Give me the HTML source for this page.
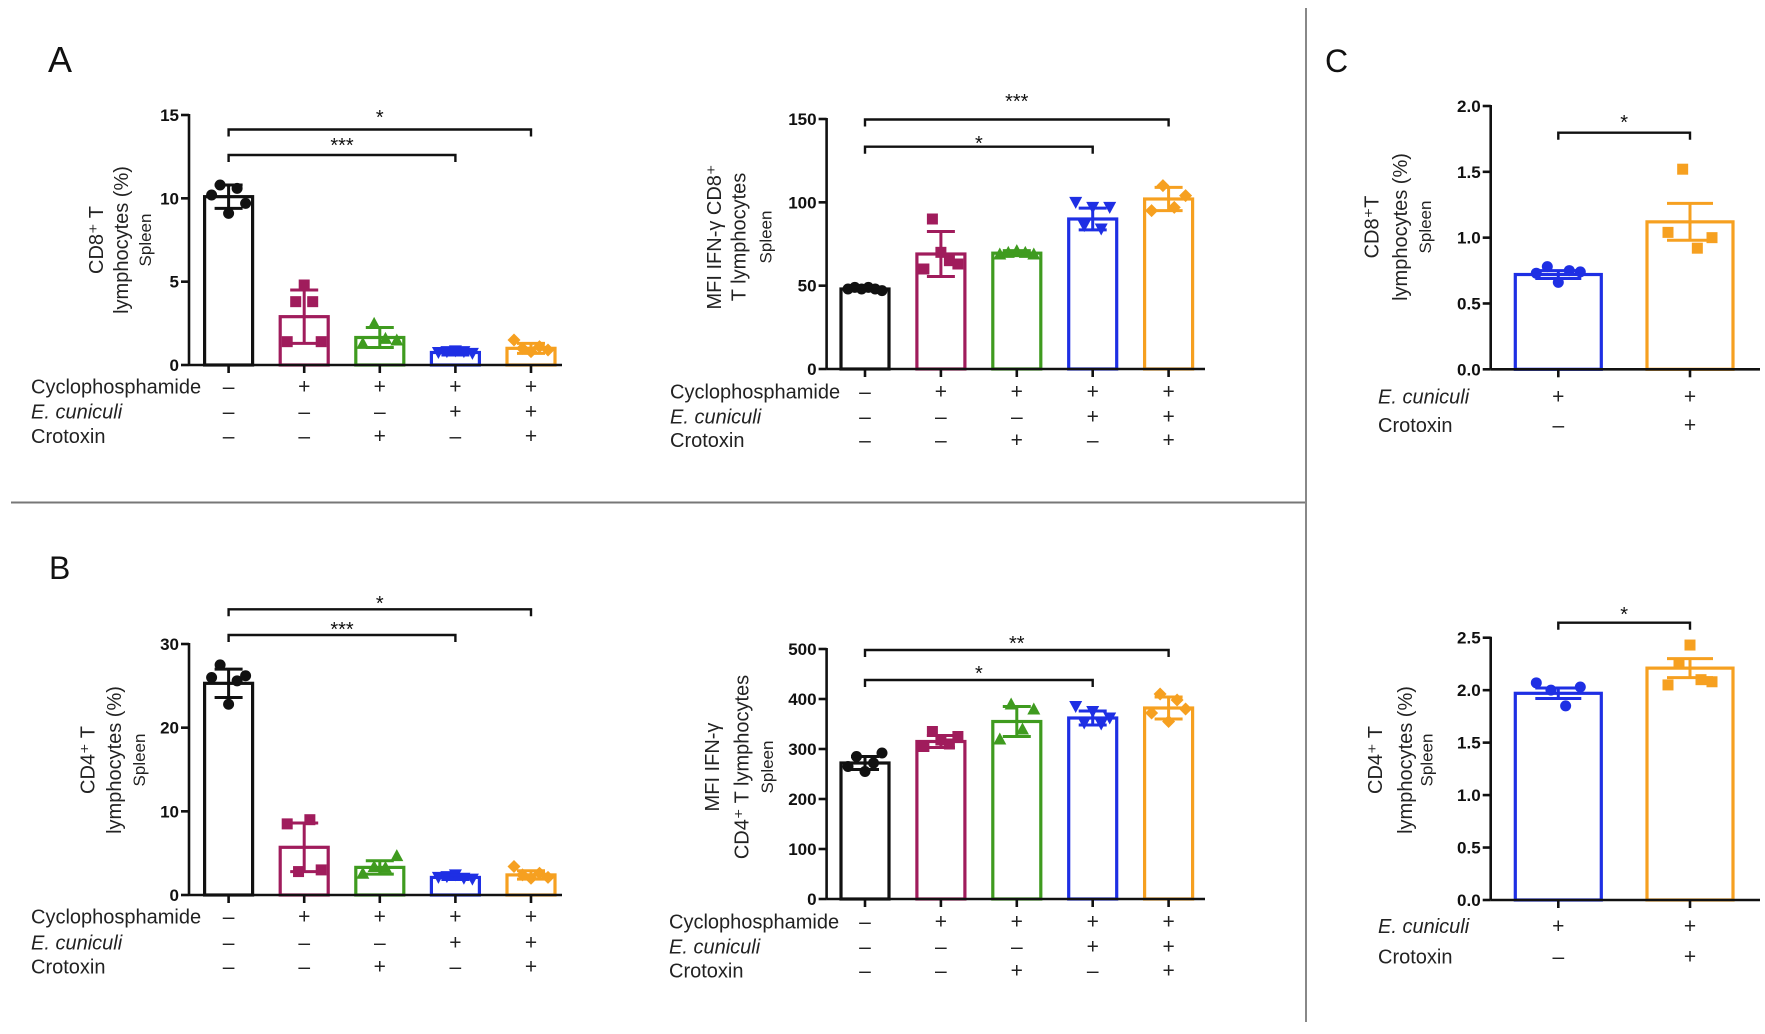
<!DOCTYPE html>
<html><head><meta charset="utf-8">
<style>
html,body{margin:0;padding:0;background:#fff;}
svg{display:block;font-family:"Liberation Sans",Arial,sans-serif;}
</style></head>
<body>
<svg id="fig" width="1765" height="1034" viewBox="0 0 1765 1034" xmlns="http://www.w3.org/2000/svg">
<rect x="0" y="0" width="1765" height="1034" fill="#fff"/>
<line x1="11" y1="502.5" x2="1306" y2="502.5" stroke="#777" stroke-width="2"/>
<line x1="1306" y1="8" x2="1306" y2="1022" stroke="#888" stroke-width="2"/>
<text x="48" y="72" font-size="36" fill="#111">A</text>
<text x="49" y="579" font-size="32" fill="#111">B</text>
<text x="1325" y="72" font-size="32" fill="#111">C</text>
</svg>
<script>
// ---------- DATA ----------
const groupColors = ["#111111","#a01c5c","#3f9b1f","#1e2fe4","#f6a020"];
const cyclophosphamideRow = ["–","+","+","+","+"];
const eCuniculiRow = ["–","–","–","+","+"];
const crotoxinRow = ["–","–","+","–","+"];
const cEcuniculiRow = ["+","+"];
const cCrotoxinRow = ["–","+"];

const aLeftTicks = [0,5,10,15];
const aLeftMeans = [10.1,2.9,1.65,0.75,1.0];
const aLeftErr = [0.7,1.6,0.6,0.15,0.3];
const aLeftPoints = [[10.2,10.8,9.1,10.6,9.7],[1.4,3.8,4.8,3.8,1.4],[1.3,2.5,1.6,1.5],[0.75,0.8,0.85,0.8,0.7],[1.5,1.0,0.8,1.1,0.9]];

const aRightTicks = [0,50,100,150];
const aRightMeans = [48,69,69.5,90,102];
const aRightErr = [1,13.5,1.5,6.5,7];
const aRightPoints = [[48,49,48,49,48,47],[60,90,70,65,63],[69,70,71,70,69],[100,86,97,84,97],[95,110,97,104]];

const bLeftTicks = [0,10,20,30];
const bLeftMeans = [25.3,5.7,3.3,2.1,2.4];
const bLeftErr = [1.7,2.9,0.8,0.25,0.5];
const bLeftPoints = [[26.0,27.5,22.8,25.6,26.2],[8.5,2.8,9.0,3.0],[2.6,3.4,3.3,4.7],[2.1,2.2,2.4,2.0,1.9],[3.4,2.4,2.0,2.6,2.1]];

const bRightTicks = [0,100,200,300,400,500];
const bRightMeans = [272,315,355,362,382];
const bRightErr = [13,12,30,14,22];
const bRightPoints = [[265,285,255,272,292],[305,335,318,310,325],[320,390,340,380],[385,352,375,350,362],[372,410,355,398,380]];

const cTopTicks = [0,0.5,1.0,1.5,2.0];
const cTopMeans = [0.72,1.12];
const cTopErr = [0.03,0.14];
const cTopPoints = [[0.73,0.78,0.66,0.75,0.74],[1.04,1.52,0.92,1.0]];

const cBotTicks = [0,0.5,1.0,1.5,2.0,2.5];
const cBotMeans = [1.97,2.21];
const cBotErr = [0.05,0.09];
const cBotPoints = [[2.07,2.0,1.85,2.03],[2.05,2.25,2.43,2.1,2.08]];

// ---------- DRAWING ----------
const NS = "http://www.w3.org/2000/svg";
const svg = document.getElementById("fig");
function mk(tag, attrs, parent){
  const e = document.createElementNS(NS, tag);
  for (const k in attrs) e.setAttribute(k, attrs[k]);
  (parent||svg).appendChild(e);
  return e;
}

function marker(g, shape, cx, cy, color){
  const r = 5.5;
  let e;
  if (shape==="circle") e = mk("circle",{cx:cx,cy:cy,r:r,fill:color},g);
  else if (shape==="square") e = mk("rect",{x:cx-r,y:cy-r,width:2*r,height:2*r,fill:color},g);
  else if (shape==="tri-up") e = mk("polygon",{points:`${cx},${cy-r-1} ${cx-r-1},${cy+r} ${cx+r+1},${cy+r}`,fill:color},g);
  else if (shape==="tri-down") e = mk("polygon",{points:`${cx},${cy+r+1} ${cx-r-1},${cy-r} ${cx+r+1},${cy-r}`,fill:color},g);
  else e = mk("polygon",{points:`${cx},${cy-r-1} ${cx+r+1},${cy} ${cx},${cy+r+1} ${cx-r-1},${cy}`,fill:color},g);
  
  
}

function panel(cfg){
  const g = mk("g",{});
  
  
  const ymax = cfg.ticks[cfg.ticks.length-1];
  const yS = v => cfg.y0 - (v/ymax)*(cfg.y0-cfg.yTop);
  const xS = i => cfg.cx0 + i*cfg.step;
  cfg.means.forEach((m,i)=>{
    const col = cfg.colors[i];
    const b = mk("rect",{x:xS(i)-cfg.bw/2,y:yS(m),width:cfg.bw,height:cfg.y0-yS(m),fill:"none",stroke:col,"stroke-width":3.2},g);
    
    
  });
  cfg.points.forEach((pts,i)=>{
    const n = pts.length;
    pts.forEach((v,j)=>{
      const off = n>1 ? (-cfg.spread + 2*cfg.spread*j/(n-1)) : 0;
      marker(g, cfg.shapes[i], xS(i)+off, yS(v), cfg.colors[i]);
    });
  });
  cfg.means.forEach((m,i)=>{
    const col = cfg.colors[i], x = xS(i), e = cfg.err[i];
    const eg = mk("g",{stroke:col,"stroke-width":3},g);
    
    
    mk("line",{x1:x,y1:yS(m+e),x2:x,y2:yS(m-e)},eg);
    mk("line",{x1:x-cfg.cap/2,y1:yS(m+e),x2:x+cfg.cap/2,y2:yS(m+e)},eg);
    mk("line",{x1:x-cfg.cap/2,y1:yS(m-e),x2:x+cfg.cap/2,y2:yS(m-e)},eg);
  });
  const ax = mk("g",{stroke:"#111","stroke-width":2.6},g);
  
  
  mk("line",{x1:cfg.ax,y1:cfg.yTop-1,x2:cfg.ax,y2:cfg.y0},ax);
  mk("line",{x1:cfg.ax,y1:cfg.y0,x2:cfg.xEnd,y2:cfg.y0},ax);
  cfg.ticks.forEach(t=>{
    mk("line",{x1:cfg.ax-8,y1:yS(t),x2:cfg.ax,y2:yS(t)},ax);
    const tl = mk("text",{x:cfg.ax-10,y:yS(t)+6,"text-anchor":"end","font-size":17,"font-weight":"bold",fill:"#111",stroke:"none"},g);
    
    
    tl.textContent = cfg.fmt(t);
  });
  cfg.means.forEach((m,i)=>{
    mk("line",{x1:xS(i),y1:cfg.y0,x2:xS(i),y2:cfg.y0+8},ax);
  });
  const yt = mk("text",{transform:`rotate(-90)`,"text-anchor":"middle",fill:"#222"},g);
  
  
  cfg.ylab.forEach((line,k)=>{
    const ts = mk("tspan",{x:-cfg.ylabY,y:cfg.ylabX[k]+ (k===2?6:7),"font-size":k===2?17:20},yt);
    ts.textContent = line;
  });
  cfg.rows.forEach((row,r)=>{
    const lab = mk("text",{x:cfg.rowX,y:cfg.rowY[r]+7,"font-size":20,fill:"#222","font-style":row.italic?"italic":"normal"},g);
    
    
    lab.textContent = row.label;
    row.vals.forEach((s,i)=>{
      const t = mk("text",{x:xS(i),y:cfg.rowY[r]+7,"font-size":21,"text-anchor":"middle",fill:"#222"},g);
      
      
      t.textContent = s;
    });
  });
  cfg.brackets.forEach(b=>{
    const x1 = xS(b.from), x2 = xS(b.to);
    const bg = mk("g",{},g);
    
    
    mk("path",{d:`M${x1},${b.y+7} V${b.y} H${x2} V${b.y+7}`,fill:"none",stroke:"#111","stroke-width":2.4},bg);
    const st = mk("text",{x:(x1+x2)/2,y:b.sy+11,"text-anchor":"middle","font-size":20,fill:"#111"},bg);
    st.textContent = b.label;
  });
}

const abRows = [{label:"Cyclophosphamide",vals:cyclophosphamideRow},{label:"E. cuniculi",vals:eCuniculiRow,italic:true},{label:"Crotoxin",vals:crotoxinRow}];
const cRows = [{label:"E. cuniculi",vals:cEcuniculiRow,italic:true},{label:"Crotoxin",vals:cCrotoxinRow}];
const abShapes = ["circle","square","tri-up","tri-down","diamond"];
const int = t=>String(t), dec = t=>t.toFixed(1);

panel({name:"panel-a-cd8-percent",ticks:aLeftTicks,means:aLeftMeans,err:aLeftErr,points:aLeftPoints,colors:groupColors,shapes:abShapes,
  ax:189,y0:365,yTop:115,cx0:228.6,step:75.6,bw:48,cap:28,spread:17,xEnd:562,fmt:int,
  ylab:["CD8\u207A T","lymphocytes (%)","Spleen"],ylabX:[96,121,145],ylabY:240,
  rows:abRows,rowX:31,rowY:[386.7,411.7,436],
  brackets:[{from:0,to:4,y:129.5,sy:113,label:"*"},{from:0,to:3,y:155,sy:141,label:"***"}]});

panel({name:"panel-a-mfi-ifng-cd8",ticks:aRightTicks,means:aRightMeans,err:aRightErr,points:aRightPoints,colors:groupColors,shapes:abShapes,
  ax:826.6,y0:369,yTop:119,cx0:865,step:75.9,bw:48,cap:28,spread:17,xEnd:1205,fmt:int,
  ylab:["MFI IFN-\u03B3 CD8\u207A","T lymphocytes","Spleen"],ylabX:[713.8,738.6,765.4],ylabY:237,
  rows:abRows,rowX:670,rowY:[391.7,416.7,440],
  brackets:[{from:0,to:4,y:119.5,sy:97,label:"***"},{from:0,to:3,y:146.7,sy:139,label:"*"}]});

panel({name:"panel-b-cd4-percent",ticks:bLeftTicks,means:bLeftMeans,err:bLeftErr,points:bLeftPoints,colors:groupColors,shapes:abShapes,
  ax:189,y0:895,yTop:644,cx0:228.6,step:75.6,bw:48,cap:28,spread:17,xEnd:562,fmt:int,
  ylab:["CD4\u207A T","lymphocytes (%)","Spleen"],ylabX:[87.5,114,139],ylabY:760,
  rows:abRows,rowX:31,rowY:[916.7,942.7,966.7],
  brackets:[{from:0,to:4,y:609.3,sy:599,label:"*"},{from:0,to:3,y:635,sy:625,label:"***"}]});

panel({name:"panel-b-mfi-ifng-cd4",ticks:bRightTicks,means:bRightMeans,err:bRightErr,points:bRightPoints,colors:groupColors,shapes:abShapes,
  ax:826.6,y0:899,yTop:649,cx0:865,step:75.9,bw:48,cap:28,spread:17,xEnd:1205,fmt:int,
  ylab:["MFI IFN-\u03B3","CD4\u207A T lymphocytes","Spleen"],ylabX:[712,741.7,767],ylabY:767,
  rows:abRows,rowX:669,rowY:[921.7,946.7,970.7],
  brackets:[{from:0,to:4,y:650,sy:639,label:"**"},{from:0,to:3,y:680,sy:669,label:"*"}]});

panel({name:"panel-c-cd8-percent",ticks:cTopTicks,means:cTopMeans,err:cTopErr,points:cTopPoints,colors:[groupColors[3],groupColors[4]],shapes:["circle","square"],
  ax:1490.7,y0:369.3,yTop:106,cx0:1558.3,step:131.7,bw:86,cap:46,spread:22,xEnd:1760,fmt:dec,
  ylab:["CD8\u207AT","lymphocytes (%)","Spleen"],ylabX:[1371.7,1400,1425],ylabY:227,
  rows:cRows,rowX:1378,rowY:[396.7,425],
  brackets:[{from:0,to:1,y:132.7,sy:118,label:"*"}]});

panel({name:"panel-c-cd4-percent",ticks:cBotTicks,means:cBotMeans,err:cBotErr,points:cBotPoints,colors:[groupColors[3],groupColors[4]],shapes:["circle","square"],
  ax:1490.7,y0:900,yTop:637.7,cx0:1558.3,step:131.7,bw:86,cap:46,spread:22,xEnd:1760,fmt:dec,
  ylab:["CD4\u207A T","lymphocytes (%)","Spleen"],ylabX:[1375,1405,1426.7],ylabY:760,
  rows:cRows,rowX:1378,rowY:[926,956.7],
  brackets:[{from:0,to:1,y:622.7,sy:610,label:"*"}]});
</script>
</body></html>
